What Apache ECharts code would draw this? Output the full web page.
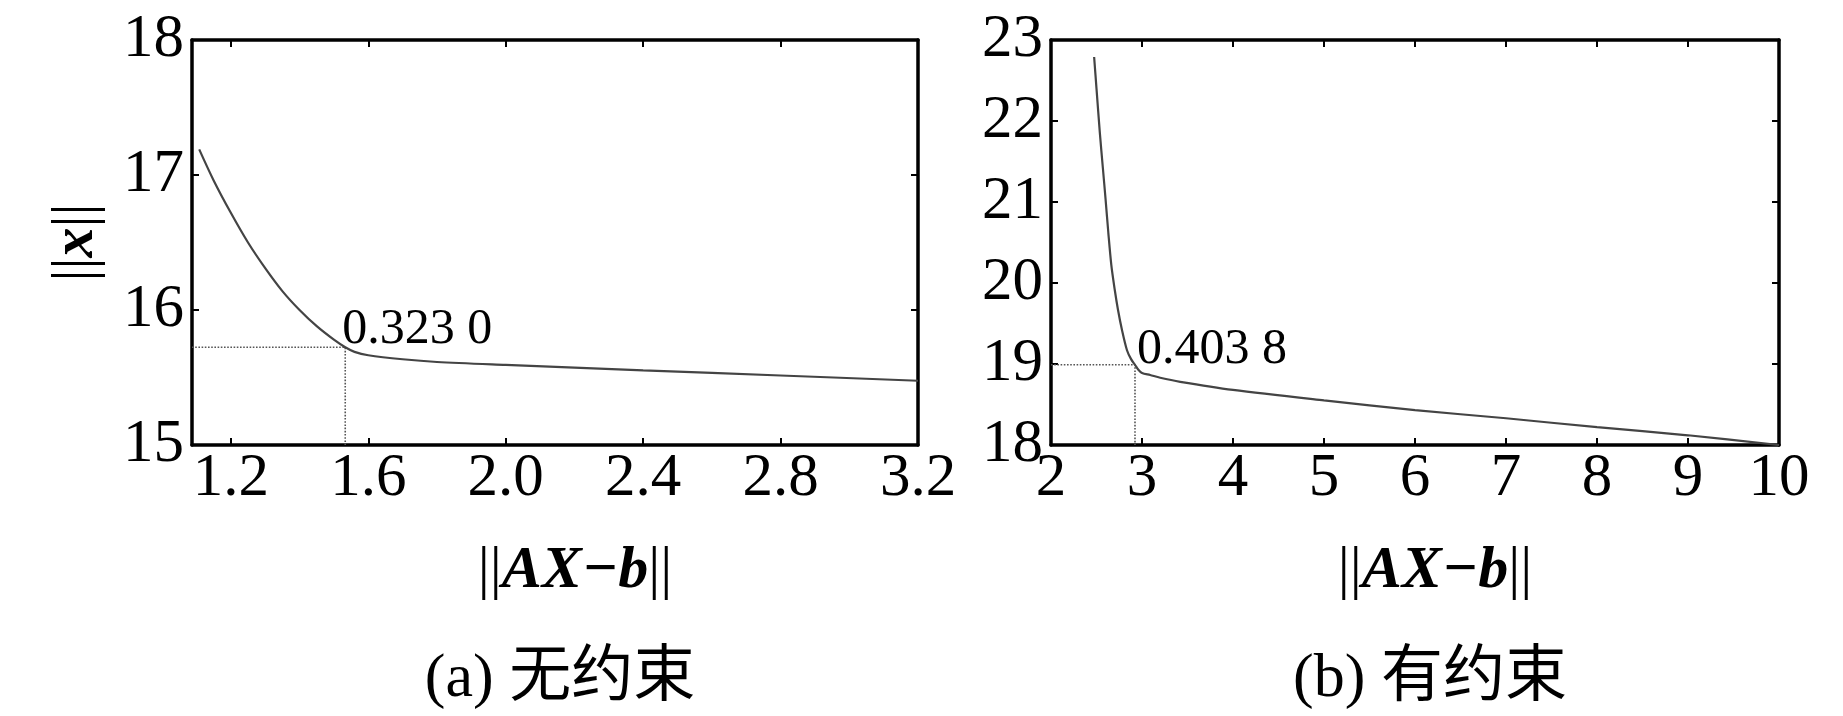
<!DOCTYPE html>
<html lang="zh">
<head>
    <meta charset="UTF-8">
    <title>||x|| vs ||AX-b||</title>
    <script src="https://cdn.jsdelivr.net/npm/echarts@6.0.0/dist/echarts.min.js"></script>
    <style>
        html, body { margin: 0; padding: 0; background: #fff; }
        #chart { width: 1843px; height: 716px; }
    </style>
</head>
<body>
    <div id="chart"></div>
    <script>
        // (a) 无约束
        const curveAX = [1.108, 1.15, 1.20, 1.25, 1.30, 1.35, 1.40, 1.45, 1.50, 1.533, 1.56, 1.60, 1.70, 1.80, 2.0, 2.4, 2.8, 3.2];
        const curveAY = [17.19, 16.96, 16.72, 16.50, 16.31, 16.14, 16.00, 15.88, 15.78, 15.724, 15.69, 15.665, 15.635, 15.615, 15.593, 15.553, 15.515, 15.476];
        const kneeA = [1.533, 15.724];
        const labelA = '0.323 0';
        const xTicksA = [1.2, 1.6, 2.0, 2.4, 2.8, 3.2];
        const yTicksA = [15, 16, 17, 18];

        // (b) 有约束
        const curveBX = [2.474, 2.50, 2.537, 2.57, 2.60, 2.63, 2.663, 2.70, 2.736, 2.78, 2.835, 2.88, 2.923, 2.96, 3.0, 3.09, 3.2, 3.42, 4.0, 5.0, 6.0, 7.0, 8.0, 9.0, 10.0];
        const curveBY = [22.79, 22.40, 21.85, 21.42, 21.03, 20.62, 20.22, 19.92, 19.67, 19.42, 19.17, 19.06, 18.99, 18.93, 18.89, 18.864, 18.83, 18.78, 18.68, 18.55, 18.43, 18.33, 18.22, 18.12, 18.0];
        const kneeB = [2.923, 18.99];
        const labelB = '0.403 8';
        const xTicksB = [2, 3, 4, 5, 6, 7, 8, 9, 10];
        const yTicksB = [18, 19, 20, 21, 22, 23];

        const captions = ['(a) 无约束', '(b) 有约束'];

        const SERIF = "'Liberation Serif', 'Times New Roman', serif";
        const CJK = "'Liberation Serif', 'Noto Sans CJK SC', serif";

        const frameLine = { show: true, onZero: false, lineStyle: { color: '#000', width: 3.5 } };
        const innerTick = (vals) => ({ show: true, inside: true, length: 7, customValues: vals, lineStyle: { color: '#000', width: 2 } });
        const tickFont = { fontFamily: SERIF, fontSize: 61, color: '#000' };

        const xName = {
            name: '{bar|||}{v|AX\u2212b}{bar|||}',
            nameLocation: 'middle',
            nameGap: 96,
            nameTextStyle: {
                padding: [0, 0, 0, 40],
                rich: {
                    bar: { fontFamily: SERIF, fontSize: 60, color: '#000' },
                    v: { fontFamily: SERIF, fontSize: 60, fontWeight: 'bold', fontStyle: 'italic', color: '#000' }
                }
            }
        };

        function makeAxes(grid, xmin, xmax, ymin, ymax, xt, yt, fmt, withYName) {
            const xs = [
                Object.assign({
                    type: 'value', gridIndex: grid, min: xmin, max: xmax, position: 'bottom',
                    axisLine: frameLine, axisTick: innerTick(xt), splitLine: { show: false },
                    axisLabel: Object.assign({ customValues: xt, margin: 3, formatter: fmt }, tickFont)
                }, xName),
                {
                    type: 'value', gridIndex: grid, min: xmin, max: xmax, position: 'top',
                    axisLine: frameLine, axisTick: innerTick(xt), splitLine: { show: false },
                    axisLabel: { show: false }
                }
            ];
            const left = {
                type: 'value', gridIndex: grid, min: ymin, max: ymax, position: 'left',
                axisLine: frameLine, axisTick: innerTick(yt), splitLine: { show: false },
                axisLabel: Object.assign({ customValues: yt, margin: 8 }, tickFont)
            };
            if (withYName) {
                Object.assign(left, {
                    name: '{bar|||}{v|x}{bar|||}',
                    nameLocation: 'middle',
                    nameGap: 86,
                    nameTextStyle: {
                        rich: {
                            bar: { fontFamily: SERIF, fontSize: 60, color: '#000' },
                            v: { fontFamily: SERIF, fontSize: 60, fontWeight: 'bold', fontStyle: 'italic', color: '#000' }
                        }
                    }
                });
            }
            const ys = [left, {
                type: 'value', gridIndex: grid, min: ymin, max: ymax, position: 'right',
                axisLine: frameLine, axisTick: innerTick(yt), splitLine: { show: false },
                axisLabel: { show: false }
            }];
            return { xs, ys };
        }

        const zip = (a, b) => a.map((v, i) => [v, b[i]]);

        const axA = makeAxes(0, 1.087, 3.2, 15, 18, xTicksA, yTicksA, v => v.toFixed(1), true);
        const axB = makeAxes(1, 2, 10, 18, 23, xTicksB, yTicksB, v => String(v), false);

        function seriesFor(xi, yi, xs, ys, knee, label, xmin, ymin, off) {
            return [
                {
                    type: 'line', xAxisIndex: xi, yAxisIndex: yi, data: zip(xs, ys),
                    showSymbol: false, smooth: 0.3, lineStyle: { color: '#444', width: 2.2 }, z: 3
                },
                {
                    type: 'line', xAxisIndex: xi, yAxisIndex: yi,
                    data: [[xmin, knee[1]], knee, [knee[0], ymin]],
                    showSymbol: false, lineStyle: { color: '#555', width: 1.6, type: 'dotted' }, z: 2
                },
                {
                    type: 'scatter', xAxisIndex: xi, yAxisIndex: yi, data: [knee], symbolSize: 0,
                    itemStyle: { color: '#000', opacity: 1 },
                    label: {
                        show: true, formatter: label, position: 'right', distance: 0,
                        align: 'left', verticalAlign: 'bottom', offset: off,
                        fontFamily: SERIF, fontSize: 50, color: '#000', opacity: 1
                    }
                }
            ];
        }

        const chart = echarts.init(document.getElementById('chart'), null, { renderer: 'canvas' });
        chart.setOption({
            animation: false,
            backgroundColor: '#fff',
            grid: [
                { left: 192, top: 40, width: 726, height: 405 },
                { left: 1051, top: 40, width: 728, height: 405 }
            ],
            xAxis: axA.xs.concat(axB.xs),
            yAxis: axA.ys.concat(axB.ys),
            series: seriesFor(0, 0, curveAX, curveAY, kneeA, labelA, 1.087, 15, [-3, 8])
                .concat(seriesFor(2, 2, curveBX, curveBY, kneeB, labelB, 2, 18, [2, 10])),
            graphic: [
                { type: 'text', x: 560, y: 680, style: { text: captions[0], font: '62px ' + CJK, fill: '#000', align: 'center', verticalAlign: 'middle' } },
                { type: 'text', x: 1430, y: 680, style: { text: captions[1], font: '62px ' + CJK, fill: '#000', align: 'center', verticalAlign: 'middle' } }
            ]
        });
    </script>
</body>
</html>
